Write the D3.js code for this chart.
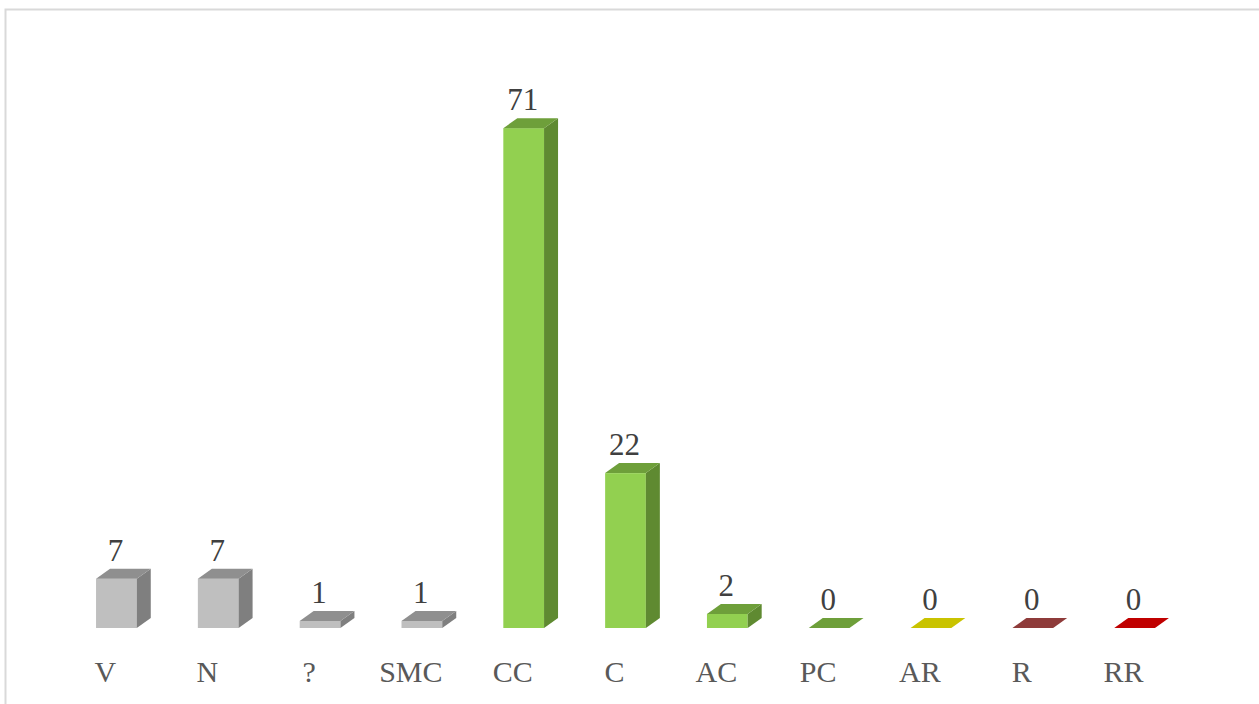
<!DOCTYPE html>
<html>
<head>
<meta charset="utf-8">
<script src="https://cdn.jsdelivr.net/npm/d3@7"></script>
<style>
  html, body { margin: 0; padding: 0; background: #fff; }
  svg { display: block; }
</style>
</head>
<body>
<div id="chart"></div>
<script>
const categories = ["V", "N", "?", "SMC", "CC", "C", "AC", "PC", "AR", "R", "RR"];
const counts = [7, 7, 1, 1, 71, 22, 2, 0, 0, 0, 0];
const groups = ["grey", "grey", "grey", "grey", "green", "green", "green", "green", "yellow", "brown", "red"];

// front / top / side shades per group
const palette = {
  grey: { front: "#bfbfbf", top: "#8f8f8f", side: "#7f7f7f" },
  green: { front: "#92d050", top: "#6e9f3a", side: "#5f8a31" },
  yellow: { front: "#c9c300", top: "#c9c300", side: "#a8a200" },
  brown: { front: "#953735", top: "#8e3b3a", side: "#7a2e2d" },
  red: { front: "#c00000", top: "#c00000", side: "#a00000" },
};

const W = 1259, H = 704;
const baseY = 628;
const dx = 14, dy = 10; // 3D depth

const data = categories.map((c, i) => ({ cat: c, value: counts[i], group: groups[i] }));

const svg = d3.select("#chart").append("svg")
  .attr("width", W)
  .attr("height", H);

// chart area border (runs off the right/bottom edge)
svg.append("rect")
  .attr("x", 5.5).attr("y", 9.5)
  .attr("width", W + 20).attr("height", H + 20)
  .attr("fill", "none")
  .attr("stroke", "#d9d9d9")
  .attr("stroke-width", 2);

const x = d3.scaleBand()
  .domain(categories)
  .range([65.5, 1185.5])
  .paddingInner(0.6)
  .paddingOuter(0.3);

const y = d3.scaleLinear()
  .domain([0, 80])
  .range([baseY, baseY - 80 * 7.04]);

const bw = x.bandwidth();
const bars = svg.append("g");

data.forEach((d) => {
  const x0 = x(d.cat), x1 = x0 + bw;
  const yt = y(d.value), yb = y(0);
  const col = palette[d.group];
  const g = bars.append("g");

  if (d.value > 0) {
    g.append("rect")
      .attr("x", x0).attr("y", yt)
      .attr("width", bw).attr("height", yb - yt)
      .attr("fill", col.front);
    g.append("polygon")
      .attr("points", [[x1, yt], [x1 + dx, yt - dy], [x1 + dx, yb - dy], [x1, yb]].join(" "))
      .attr("fill", col.side);
  }
  g.append("polygon")
    .attr("points", [[x0, yt], [x0 + dx, yt - dy], [x1 + dx, yt - dy], [x1, yt]].join(" "))
    .attr("fill", col.top);

  // value label
  svg.append("text")
    .attr("x", x0 + bw / 2 - 1)
    .attr("y", yt - dy - 8)
    .attr("text-anchor", "middle")
    .style("font-family", "'Liberation Serif', 'Times New Roman', serif")
    .style("font-size", "31px")
    .style("fill", "#404040")
    .text(d.value);
});

// category labels
svg.append("g").selectAll("text")
  .data(categories)
  .join("text")
  .attr("x", (c) => x(c) + bw / 2 - 11)
  .attr("y", 682)
  .attr("text-anchor", "middle")
  .style("font-family", "'Liberation Serif', 'Times New Roman', serif")
  .style("font-size", "30px")
  .style("fill", "#595959")
  .text((c) => c);
</script>
</body>
</html>
